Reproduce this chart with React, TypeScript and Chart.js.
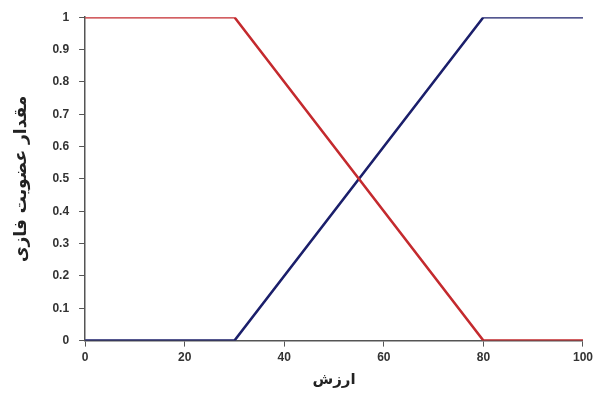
import React, { useEffect, useRef } from "react";
import { Chart, registerables } from "chart.js";

Chart.register(...registerables);

const xValues = [0, 30, 80, 100];
const redValues = [1, 1, 0, 0];
const blueValues = [0, 0, 1, 1];
const xTitle = "ارزش";
const yTitle = "مقدار عضویت فازی";

export default function App() {
  const ref = useRef<HTMLCanvasElement | null>(null);
  useEffect(() => {
    if (!ref.current) return;
    const tickFont = { family: "'Liberation Sans', Arial, sans-serif", size: 12, weight: "bold" as const };
    const chart = new Chart(ref.current, {
      type: "line",
      data: {
        datasets: [
          {
            data: xValues.map((x, i) => ({ x, y: redValues[i] })),
            borderColor: "#c42a2e",
            borderWidth: 2.5,
            pointRadius: 0,
            tension: 0,
          },
          {
            data: xValues.map((x, i) => ({ x, y: blueValues[i] })),
            borderColor: "#1b1f6b",
            borderWidth: 2.5,
            pointRadius: 0,
            tension: 0,
          },
        ],
      },
      options: {
        animation: false,
        responsive: false,
        devicePixelRatio: 1,
        layout: { padding: { left: 11, right: 2, top: 14, bottom: 12 } },
        plugins: { legend: { display: false }, tooltip: { enabled: false } },
        scales: {
          x: {
            type: "linear",
            min: 0,
            max: 100,
            ticks: { stepSize: 20, color: "#333", font: tickFont, padding: 4 },
            grid: { drawOnChartArea: false, tickLength: 6, color: "#555" },
            border: { color: "#555", width: 1.5 },
            title: {
              display: true,
              text: xTitle,
              color: "#222",
              font: { family: "'DejaVu Sans', sans-serif", size: 15, weight: "bold" },
              padding: { top: 2, bottom: 0 },
            },
          },
          y: {
            type: "linear",
            min: 0,
            max: 1,
            ticks: {
              stepSize: 0.1,
              color: "#333",
              font: tickFont,
              padding: 10,
              callback: (v: any) => String(Math.round(Number(v) * 10) / 10),
            },
            grid: { drawOnChartArea: false, tickLength: 6, color: "#555" },
            border: { color: "#555", width: 1.5 },
            title: {
              display: true,
              text: yTitle,
              color: "#222",
              font: { family: "'DejaVu Sans', sans-serif", size: 17, weight: "bold" },
              padding: { top: 0, bottom: 11 },
            },
          },
        },
      },
    });
    return () => chart.destroy();
  }, []);
  return (
    <div style={{ position: "fixed", left: 0, top: 0, width: 597, height: 401, background: "#fff" }}>
      <canvas ref={ref} width={597} height={401} />
    </div>
  );
}
